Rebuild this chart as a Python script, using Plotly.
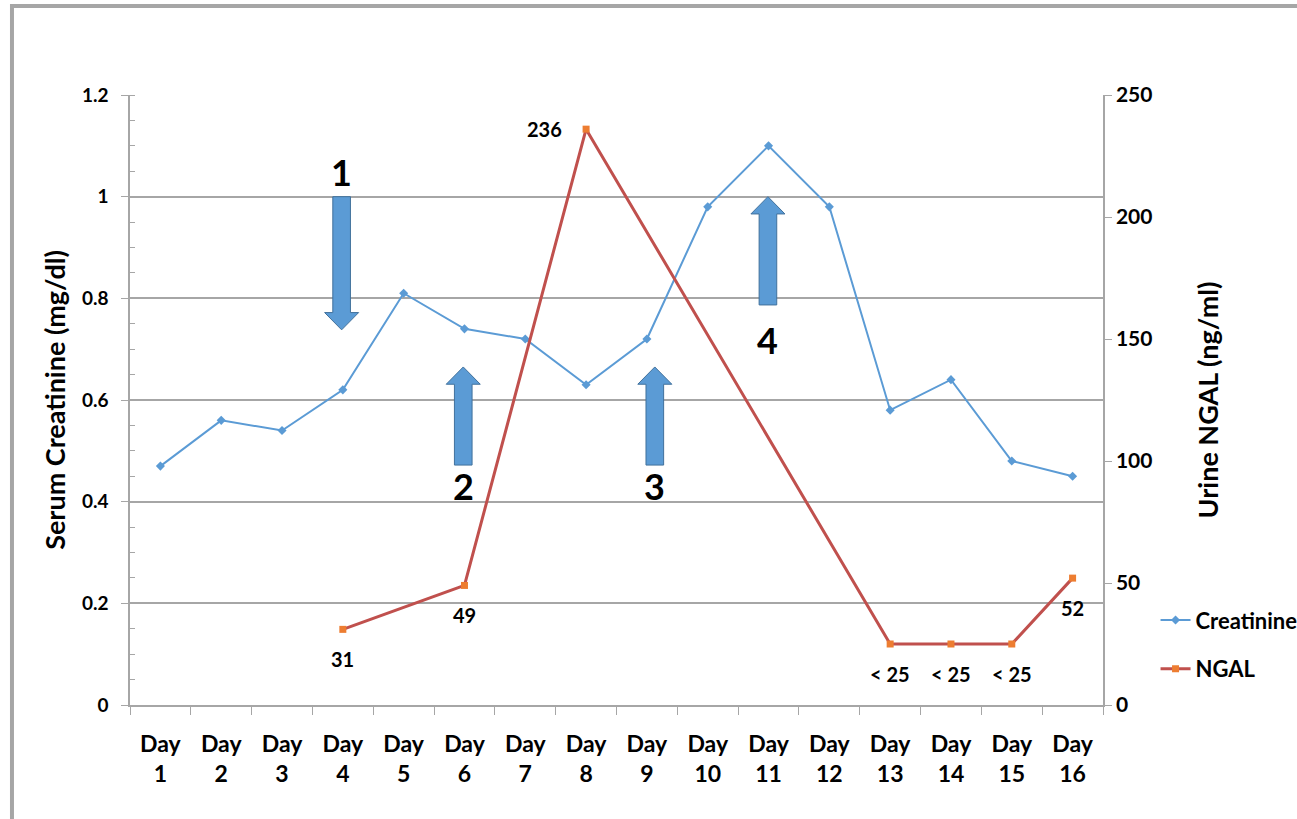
import plotly.graph_objects as go

# ---- data ----
days = list(range(1, 17))
day_labels = [f"Day<br>{d}" for d in days]
creatinine = [0.47, 0.56, 0.54, 0.62, 0.81, 0.74, 0.72, 0.63, 0.72, 0.98, 1.10, 0.98, 0.58, 0.64, 0.48, 0.45]
ngal = [None, None, None, 31, None, 49, None, 236, None, None, None, None, 25, 25, 25, 52]
ngal_labels = [None, None, None, "31", None, "49", None, "236", None, None, None, None, "< 25", "< 25", "< 25", "52"]

# event arrows: (label, center day, tail value, tip value, label y)
arrow_labels = ["1", "2", "3", "4"]
arrow_days = [3.98, 5.98, 9.13, 10.99]
arrow_tails = [1.0, 0.472, 0.472, 0.787]
arrow_tips = [0.738, 0.665, 0.665, 1.0]
arrow_label_y = [1.048, 0.43, 0.43, 0.718]

FONT = "Lato"
GRID = "#a6a6a6"

fig = go.Figure()
fig.add_trace(go.Scatter(
    x=days, y=creatinine, name="Creatinine", mode="lines+markers",
    line=dict(color="#5b9bd5", width=2),
    marker=dict(symbol="diamond", size=7, color="#5b9bd5"),
    legend="legend", showlegend=True,
))
fig.add_trace(go.Scatter(
    x=days, y=ngal, name="NGAL", mode="lines+markers", yaxis="y2",
    connectgaps=True,
    line=dict(color="#c0504d", width=3),
    marker=dict(symbol="square", size=7, color="#ed7d31"),
    legend="legend2", showlegend=True,
))

label_font = dict(family=FONT, size=20, color="black", weight="bold")
annotations = []
for d, v, t in zip(days, ngal, ngal_labels):
    if t is None:
        continue
    if v > 200:
        annotations.append(dict(x=d, y=v, xref="x", yref="y2", text=t, showarrow=False,
                                xshift=-42, font=label_font))
    else:
        annotations.append(dict(x=d, y=v, xref="x", yref="y2", text=t, showarrow=False,
                                yshift=-30, font=label_font))

shapes = []
shaft_hw = 0.145
head_hw = 0.28
for lab, xc, y0, y1, ly in zip(arrow_labels, arrow_days, arrow_tails, arrow_tips, arrow_label_y):
    direction = 1 if y1 > y0 else -1
    head_len = 0.034
    yb = y1 - direction * head_len
    path = (f"M {xc - shaft_hw} {y0} L {xc - shaft_hw} {yb} L {xc - head_hw} {yb} "
            f"L {xc} {y1} L {xc + head_hw} {yb} L {xc + shaft_hw} {yb} L {xc + shaft_hw} {y0} Z")
    shapes.append(dict(type="path", path=path, xref="x", yref="y",
                       fillcolor="#5b9bd5", line=dict(color="#41719c", width=1)))
    annotations.append(dict(x=xc, y=ly, xref="x", yref="y", text=lab, showarrow=False,
                            font=dict(family=FONT, size=36, color="black", weight="bold")))

# outer gray frame
shapes.append(dict(type="rect", xref="paper", yref="paper", x0=-0.1213, y0=-0.6, x1=1.6, y1=1.1459,
                   line=dict(color="#a6a6a6", width=4), layer="below"))

fig.update_layout(
    width=1297, height=819,
    margin=dict(l=130, r=194, t=95, b=114, autoexpand=False),
    paper_bgcolor="white", plot_bgcolor="white",
    font=dict(family=FONT),
    showlegend=True,
    xaxis=dict(
        range=[0.5, 16.5], tickvals=days, ticktext=day_labels, ticks="",
        showgrid=False, zeroline=False, showline=True, linecolor=GRID, linewidth=1.5,
        tickfont=dict(family=FONT, size=23, color="black", weight="bold"),
        ticklabelstandoff=18,
        minor=dict(tick0=0.5, dtick=1, ticks="outside", ticklen=8, tickcolor=GRID, showgrid=False),
    ),
    yaxis=dict(
        range=[0, 1.2], dtick=0.2, showgrid=True, gridcolor=GRID, gridwidth=1.5,
        zeroline=False, showline=True, linecolor=GRID, linewidth=1.5,
        ticks="outside", ticklen=7, tickcolor=GRID,
        ticklabelstandoff=9,
        minor=dict(dtick=0.05, ticks="inside", ticklen=5, tickcolor=GRID, showgrid=False),
        tickfont=dict(family=FONT, size=19, color="black", weight="bold"),
        title=dict(text="Serum Creatinine (mg/dl)", font=dict(family=FONT, size=27, color="black", weight="bold"),
                   standoff=8),
    ),
    yaxis2=dict(
        range=[0, 250], dtick=50, overlaying="y", side="right", showgrid=False,
        zeroline=False, showline=True, linecolor=GRID, linewidth=1.5,
        ticks="outside", ticklen=7, tickcolor=GRID,
        tickfont=dict(family=FONT, size=21, color="black", weight="bold"),
        title=dict(text="Urine NGAL (ng/ml)", font=dict(family=FONT, size=27, color="black", weight="bold"),
                   standoff=48),
    ),
    legend=dict(x=1.054, y=0.139, xanchor="left", yanchor="middle", bgcolor="rgba(0,0,0,0)",
                font=dict(family=FONT, size=22, color="black", weight="bold")),
    legend2=dict(x=1.054, y=0.059, xanchor="left", yanchor="middle", bgcolor="rgba(0,0,0,0)",
                 font=dict(family=FONT, size=22, color="black", weight="bold")),
    shapes=shapes,
    annotations=annotations,
)

fig.write_html("out.html", config={"displayModeBar": False},
               post_script="document.body.style.margin='0';")
